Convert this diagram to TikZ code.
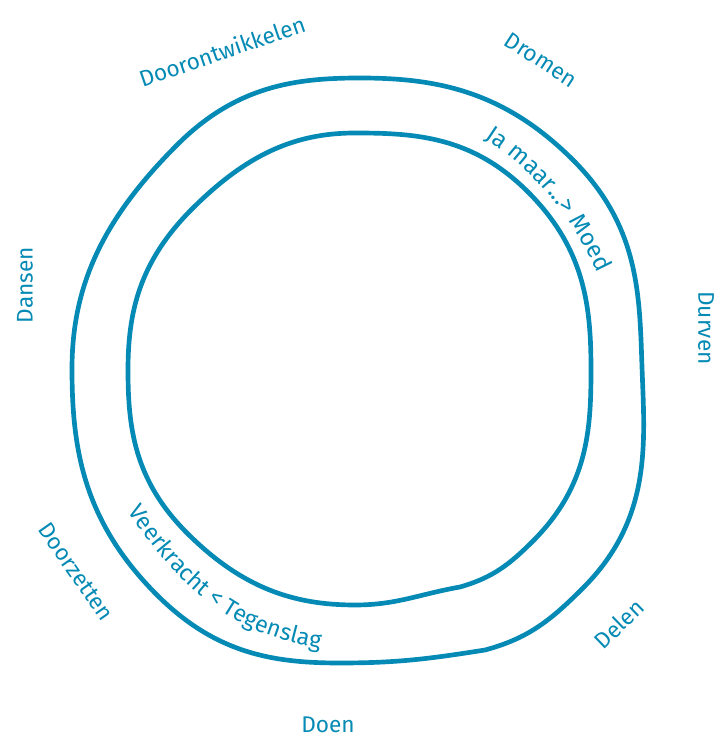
\documentclass[tikz,border=0pt]{standalone}
\usepackage{fontspec}
\setmainfont{Fira Sans}
\usetikzlibrary{decorations.text}
\definecolor{loopblue}{RGB}{4,138,180}
\tikzset{
  loopline/.style={draw=loopblue, line width=3.5pt, line join=round},
  outerlabel/.style={text=loopblue, font=\fontsize{17}{20}\selectfont, inner sep=0pt},
  ca/.style={out looseness=0.85, in looseness=1.1},
  cb/.style={out looseness=1.1, in looseness=0.85},
}
\begin{document}
\begin{tikzpicture}[x=0.75pt,y=0.75pt]
\useasboundingbox (0,0) rectangle (717,739);
% outer loop points
\coordinate (oN) at (360,661);
\coordinate (oNE) at (573,579);
\coordinate (oE) at (642,372);
\coordinate (oSE) at (583,151);
\coordinate (oK) at (485,89);
\coordinate (oS) at (340,76);
\coordinate (oSW) at (157,144);
\coordinate (oW) at (72,370);
\coordinate (oNW) at (177,594);
\draw[loopline] (oN) to[out=0,in=135,ca] (oNE) to[out=-45,in=92,cb] (oE)
  to[out=-88,in=45,ca] (oSE) to[out=-135,in=15] (oK) to[out=189,in=0] (oS)
  to[out=180,in=-45,ca] (oSW) to[out=135,in=-90,cb] (oW) to[out=90,in=-135,ca] (oNW)
  to[out=45,in=180,cb] (oN) -- cycle;
% inner loop points
\coordinate (iN) at (355,606);
\coordinate (iNE) at (528,547);
\coordinate (iE) at (591,369);
\coordinate (iSE) at (533,198);
\coordinate (iK) at (460,152);
\coordinate (iS) at (355,134);
\coordinate (iSW) at (187,206);
\coordinate (iW) at (128,369);
\coordinate (iNW) at (192,530);
\draw[loopline] (iN) to[out=0,in=135,ca] (iNE) to[out=-45,in=90,cb] (iE)
  to[out=-90,in=45,ca] (iSE) to[out=-135,in=16] (iK) to[out=190,in=0] (iS)
  to[out=180,in=-45,ca] (iSW) to[out=135,in=-90,cb] (iW) to[out=90,in=-135,ca] (iNW)
  to[out=45,in=180,cb] (iN) -- cycle;
% outer labels
\node[outerlabel, rotate=19] (doorontw) at (222,688) {Doorontwikkelen};
\node[outerlabel, rotate=-33] (dromen) at (541,679) {Dromen};
\node[outerlabel, rotate=90] (dansen) at (25,454) {Dansen};
\node[outerlabel, rotate=-90] (durven) at (706,411) {Durven};
\node[outerlabel, rotate=-55] (doorzetten) at (76,167) {Doorzetten};
\node[outerlabel, rotate=44] (delen) at (619,115) {Delen};
\node[outerlabel] (doen) at (328,14) {Doen};
% inner texts along the ring
\path[decorate, decoration={text along path, text align=center,
  text={|\color{loopblue}\fontsize{18}{21}\selectfont|Ja maar...> Moed}}]
  (464,613) to[out=-30,in=114] (608,444);
\path[decorate, decoration={text along path, text align=center,
  text={|\color{loopblue}\fontsize{17.5}{20}\selectfont|Veerkracht < Tegenslag}}]
  (124,233) to[out=-56,in=172] (326,90);
\end{tikzpicture}
\end{document}
